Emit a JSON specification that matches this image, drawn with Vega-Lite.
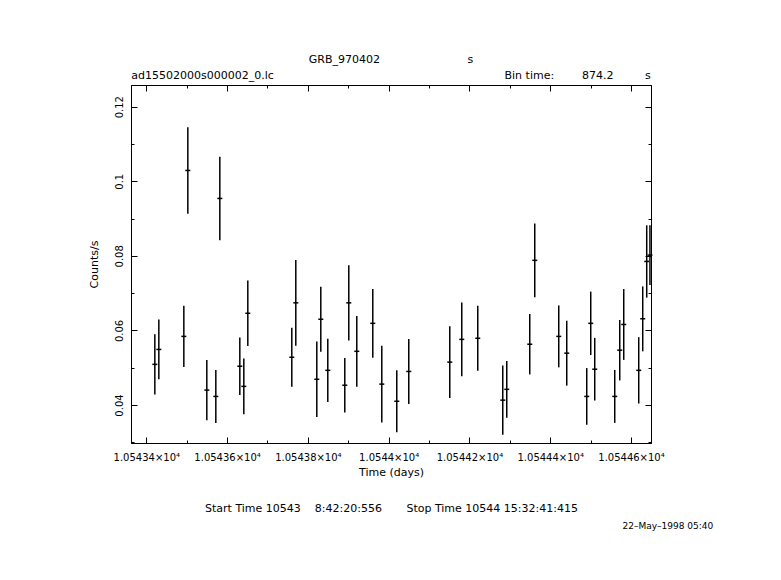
{
  "$schema": "https://vega.github.io/schema/vega-lite/v6.json",
  "width": 520,
  "height": 358,
  "autosize": {"type": "none"},
  "padding": {"left": 131, "top": 85, "right": 130, "bottom": 137},
  "background": "white",
  "config": {
    "view": {"stroke": "black", "strokeWidth": 1},
    "font": "DejaVu Sans",
    "axis": {
      "domainColor": "black", "domainWidth": 1, "tickColor": "black", "tickWidth": 1,
      "labelColor": "black", "titleColor": "black", "labelFont": "DejaVu Sans", "titleFont": "DejaVu Sans",
      "labelFontSize": 10, "titleFontSize": 11, "titleFontWeight": "normal", "grid": false,
      "labelOverlap": false, "labelFlush": false
    },
    "title": {"font": "DejaVu Sans", "fontSize": 11, "fontWeight": "normal", "color": "black"}
  },
  "title": {
    "text": [
      "GRB_970402\u00a0\u00a0\u00a0\u00a0\u00a0\u00a0\u00a0\u00a0\u00a0\u00a0\u00a0\u00a0\u00a0\u00a0\u00a0\u00a0\u00a0\u00a0\u00a0\u00a0\u00a0\u00a0\u00a0\u00a0\u00a0s",
      "ad15502000s000002_0.lc\u00a0\u00a0\u00a0\u00a0\u00a0\u00a0\u00a0\u00a0\u00a0\u00a0\u00a0\u00a0\u00a0\u00a0\u00a0\u00a0\u00a0\u00a0\u00a0\u00a0\u00a0\u00a0\u00a0\u00a0\u00a0\u00a0\u00a0\u00a0\u00a0\u00a0\u00a0\u00a0\u00a0\u00a0\u00a0\u00a0\u00a0\u00a0\u00a0\u00a0\u00a0\u00a0\u00a0\u00a0\u00a0\u00a0\u00a0\u00a0\u00a0\u00a0\u00a0\u00a0\u00a0\u00a0\u00a0\u00a0\u00a0\u00a0\u00a0\u00a0\u00a0\u00a0\u00a0\u00a0\u00a0\u00a0Bin time:\u00a0\u00a0\u00a0\u00a0\u00a0\u00a0\u00a0\u00a0874.2\u00a0\u00a0\u00a0\u00a0\u00a0\u00a0\u00a0\u00a0\u00a0s"
    ],
    "anchor": "middle",
    "frame": "group",
    "lineHeight": 16,
    "baseline": "bottom",
    "offset": -7
  },
  "data": {
    "values": [
      {"t": 10543.4211, "rate": 0.0509, "err": 0.0081},
      {"t": 10543.4310, "rate": 0.0549, "err": 0.0080},
      {"t": 10543.4929, "rate": 0.0584, "err": 0.0082},
      {"t": 10543.5028, "rate": 0.1029, "err": 0.0116},
      {"t": 10543.5498, "rate": 0.0440, "err": 0.0081},
      {"t": 10543.5721, "rate": 0.0423, "err": 0.0071},
      {"t": 10543.5820, "rate": 0.0954, "err": 0.0112},
      {"t": 10543.6315, "rate": 0.0504, "err": 0.0077},
      {"t": 10543.6414, "rate": 0.0450, "err": 0.0075},
      {"t": 10543.6513, "rate": 0.0646, "err": 0.0088},
      {"t": 10543.7602, "rate": 0.0528, "err": 0.0079},
      {"t": 10543.7701, "rate": 0.0674, "err": 0.0115},
      {"t": 10543.8221, "rate": 0.0469, "err": 0.0101},
      {"t": 10543.8320, "rate": 0.0630, "err": 0.0087},
      {"t": 10543.8493, "rate": 0.0493, "err": 0.0085},
      {"t": 10543.8914, "rate": 0.0453, "err": 0.0073},
      {"t": 10543.9013, "rate": 0.0674, "err": 0.0101},
      {"t": 10543.9211, "rate": 0.0544, "err": 0.0095},
      {"t": 10543.9607, "rate": 0.0619, "err": 0.0092},
      {"t": 10543.9830, "rate": 0.0456, "err": 0.0103},
      {"t": 10544.0201, "rate": 0.0410, "err": 0.0083},
      {"t": 10544.0498, "rate": 0.0490, "err": 0.0087},
      {"t": 10544.1513, "rate": 0.0515, "err": 0.0096},
      {"t": 10544.1810, "rate": 0.0576, "err": 0.0099},
      {"t": 10544.2206, "rate": 0.0579, "err": 0.0087},
      {"t": 10544.2825, "rate": 0.0413, "err": 0.0093},
      {"t": 10544.2924, "rate": 0.0442, "err": 0.0076},
      {"t": 10544.3493, "rate": 0.0563, "err": 0.0081},
      {"t": 10544.3617, "rate": 0.0788, "err": 0.0099},
      {"t": 10544.4211, "rate": 0.0584, "err": 0.0083},
      {"t": 10544.4409, "rate": 0.0539, "err": 0.0087},
      {"t": 10544.4904, "rate": 0.0423, "err": 0.0076},
      {"t": 10544.5003, "rate": 0.0619, "err": 0.0085},
      {"t": 10544.5102, "rate": 0.0496, "err": 0.0084},
      {"t": 10544.5597, "rate": 0.0423, "err": 0.0071},
      {"t": 10544.5721, "rate": 0.0547, "err": 0.0081},
      {"t": 10544.5820, "rate": 0.0616, "err": 0.0095},
      {"t": 10544.6191, "rate": 0.0493, "err": 0.0089},
      {"t": 10544.6290, "rate": 0.0631, "err": 0.0087},
      {"t": 10544.6389, "rate": 0.0785, "err": 0.0097},
      {"t": 10544.6469, "rate": 0.0802, "err": 0.0080}
    ]
  },
  "layer": [
    {
      "mark": {"type": "errorbar", "color": "black", "thickness": 1.5, "opacity": 1},
      "encoding": {
        "x": {
          "field": "t", "type": "quantitative",
          "scale": {"domain": [10543.3621, 10544.6495], "nice": false, "zero": false},
          "axis": {
            "orient": "bottom",
            "values": [10543.4, 10543.5, 10543.6, 10543.7, 10543.8, 10543.9, 10544.0, 10544.1, 10544.2, 10544.3, 10544.4, 10544.5, 10544.6],
            "tickSize": {"condition": {"test": "abs(datum.value*5 - round(datum.value*5)) < 0.01", "value": -6}, "value": -3},
            "labelExpr": "abs(datum.value*5 - round(datum.value*5)) < 0.01 ? format(datum.value/10000, '.6~g') + '×10⁴' : ''",
            "labelPadding": 15,
            "title": ["Time (days)", "Start Time 10543\u00a0\u00a0\u00a0\u00a08:42:20:556\u00a0\u00a0\u00a0\u00a0\u00a0\u00a0\u00a0Stop Time 10544 15:32:41:415"],
            "titleLineHeight": 36,
            "titlePadding": 1
          }
        },
        "y": {
          "field": "rate", "type": "quantitative",
          "scale": {"domain": [0.02981, 0.12582], "nice": false, "zero": false},
          "axis": {
            "orient": "left",
            "values": [0.03, 0.04, 0.05, 0.06, 0.07, 0.08, 0.09, 0.1, 0.11, 0.12],
            "tickSize": {"condition": {"test": "abs(datum.value*50 - round(datum.value*50)) < 0.01", "value": -6}, "value": -3},
            "labelExpr": "abs(datum.value*50 - round(datum.value*50)) < 0.01 ? format(datum.value, '~g') : ''",
            "labelAngle": 270,
            "labelPadding": 13,
            "title": "Counts/s",
            "titlePadding": 12
          }
        },
        "yError": {"field": "err"}
      }
    },
    {
      "mark": {"type": "tick", "orient": "horizontal", "size": 5, "thickness": 1.5, "color": "black", "opacity": 1},
      "encoding": {
        "x": {
          "field": "t", "type": "quantitative",
          "scale": {"domain": [10543.3621, 10544.6495], "nice": false, "zero": false},
          "axis": {
            "orient": "top",
            "values": [10543.4, 10543.5, 10543.6, 10543.7, 10543.8, 10543.9, 10544.0, 10544.1, 10544.2, 10544.3, 10544.4, 10544.5, 10544.6],
            "tickSize": {"condition": {"test": "abs(datum.value*5 - round(datum.value*5)) < 0.01", "value": -6}, "value": -3},
            "labels": false,
            "title": null
          }
        },
        "y": {
          "field": "rate", "type": "quantitative",
          "scale": {"domain": [0.02981, 0.12582], "nice": false, "zero": false},
          "axis": {
            "orient": "right",
            "values": [0.03, 0.04, 0.05, 0.06, 0.07, 0.08, 0.09, 0.1, 0.11, 0.12],
            "tickSize": {"condition": {"test": "abs(datum.value*50 - round(datum.value*50)) < 0.01", "value": -6}, "value": -3},
            "labels": false,
            "title": "22–May–1998 05:40",
            "titleAngle": 0,
            "titleFontSize": 9,
            "titleX": -29,
            "titleY": 440,
            "titleAlign": "left",
            "titleBaseline": "middle"
          }
        }
      }
    }
  ],
  "resolve": {"axis": {"x": "independent", "y": "independent"}}
}
